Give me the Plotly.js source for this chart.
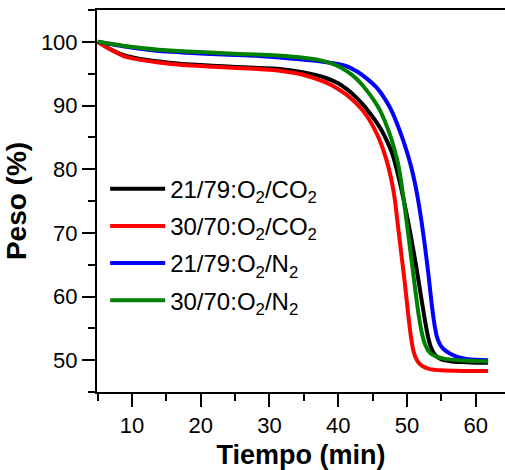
<!DOCTYPE html>
<html>
<head>
<meta charset="utf-8">
<script src="https://cdn.plot.ly/plotly-3.0.1.min.js"></script>
<style>html,body{margin:0;padding:0;background:#fff}#chart{width:505px;height:470px}</style>
</head>
<body>
<div id="chart"></div>
<script>
// Series names
const names = [
  "21/79:O<sub>2</sub>/CO<sub>2</sub>",
  "30/70:O<sub>2</sub>/CO<sub>2</sub>",
  "21/79:O<sub>2</sub>/N<sub>2</sub>",
  "30/70:O<sub>2</sub>/N<sub>2</sub>"
];
const colors = ["#000000", "#ff0000", "#0000ff", "#008000"];

// 21/79 O2/CO2 (black)
const blackX = [5, 7, 8.7, 11, 13.6, 17, 20, 23.3, 27, 31.5, 35, 38, 40, 41.2, 42.5, 43.8, 44.8, 45.6, 46.4, 47.1, 47.8, 48.5, 49.2, 49.9, 50.6, 51.3, 51.9, 52.5, 53.0, 53.5, 54.1, 55, 56.5, 58, 60, 61.8];
const blackY = [100, 98.75, 97.95, 97.35, 96.95, 96.55, 96.35, 96.15, 95.95, 95.75, 95.2, 94.4, 93.5, 92.6, 91.4, 89.9, 88.5, 87.3, 85.9, 84.4, 82.6, 80.0, 76.8, 73.2, 69.3, 65.0, 61.0, 57.0, 54.0, 52.0, 50.8, 50.1, 49.8, 49.7, 49.6, 49.6];

// 30/70 O2/CO2 (red)
const redX = [5, 7, 8.7, 11, 13.6, 17, 20, 23.3, 27, 31.5, 35, 38, 40, 42, 43.5, 44.5, 45.5, 46.3, 47.0, 47.6, 48.2, 48.7, 49.2, 49.7, 50.2, 50.6, 51.0, 51.5, 52.2, 53.3, 55, 58, 61.8];
const redY = [100, 98.7, 97.8, 97.2, 96.8, 96.4, 96.2, 96.0, 95.8, 95.45, 94.8, 93.7, 92.6, 91.0, 89.3, 87.8, 85.8, 83.8, 81.5, 79.0, 75.5, 71.0, 66.5, 62.0, 57.0, 53.5, 51.2, 49.9, 49.1, 48.6, 48.4, 48.3, 48.3];

// 21/79 O2/N2 (blue)
const blueX = [5, 8.7, 13.6, 18, 23.3, 28, 33, 37, 39.5, 41.2, 42.8, 44.3, 45.6, 46.7, 47.7, 48.5, 49.3, 50.0, 50.6, 51.1, 51.6, 52.1, 52.6, 53.1, 53.6, 54.0, 54.4, 54.9, 55.6, 56.5, 57.7, 60, 61.8];
const blueY = [100, 99.3, 98.6, 98.3, 98.0, 97.8, 97.4, 97.0, 96.6, 96.2, 95.3, 94.1, 92.8, 91.2, 89.3, 87.3, 85.0, 82.7, 80.4, 78.1, 75.3, 71.9, 68.0, 63.7, 58.8, 55.6, 53.5, 52.3, 51.5, 50.9, 50.4, 50.05, 50.0];

// 30/70 O2/N2 (green)
const greenX = [5, 8.7, 13.6, 18, 23.3, 28, 33, 37, 39, 40.5, 42, 43.2, 44.2, 45.2, 46.0, 46.8, 47.5, 48.1, 48.7, 49.2, 49.7, 50.2, 50.7, 51.2, 51.7, 52.2, 52.7, 53.3, 54.2, 55.5, 57.5, 61.8];
const greenY = [100, 99.4, 98.8, 98.5, 98.2, 98.0, 97.7, 97.2, 96.6, 95.9, 94.8, 93.6, 92.3, 90.8, 89.4, 87.5, 85.5, 83.4, 80.9, 77.7, 73.8, 69.7, 65.4, 61.1, 57.1, 54.1, 52.3, 51.2, 50.6, 50.2, 50.0, 49.8];

const xs = [blackX, redX, blueX, greenX];
const ys = [blackY, redY, blueY, greenY];

const traces = names.map((n, i) => ({
  x: xs[i], y: ys[i], name: n, type: "scatter", mode: "lines",
  line: {color: colors[i], width: 4, shape: "spline", smoothing: 0.6},
  legendgroup: "g" + i
}));

const font = {family: "Liberation Sans, Arial, sans-serif", color: "#000"};

const layout = {
  width: 505, height: 470,
  margin: {l: 97, r: 0, t: 10, b: 78},
  paper_bgcolor: "#fff", plot_bgcolor: "#fff",
  font: Object.assign({size: 22}, font),
  showlegend: true,
  legend: {
    x: 0.02, y: 0.59, xanchor: "left", yanchor: "top",
    bgcolor: "rgba(0,0,0,0)", borderwidth: 0,
    font: Object.assign({size: 24}, font),
    itemwidth: 55, tracegroupgap: 3, traceorder: "grouped"
  },
  xaxis: {
    range: [4.91, 64.26], showgrid: false, zeroline: false,
    showline: true, linecolor: "#000", linewidth: 2, mirror: true,
    ticks: "outside", ticklen: 13, tickwidth: 2, tickcolor: "#000",
    tick0: 10, dtick: 10,
    minor: {ticks: "outside", ticklen: 7, tickwidth: 2, tickcolor: "#000", dtick: 5, tick0: 0},
    tickfont: Object.assign({size: 22}, font),
    title: {text: "<b>Tiempo (min)</b>", font: Object.assign({size: 27}, font), standoff: 10}
  },
  yaxis: {
    range: [45, 105], showgrid: false, zeroline: false,
    showline: true, linecolor: "#000", linewidth: 2,
    ticks: "outside", ticklen: 13, tickwidth: 2, tickcolor: "#000",
    tick0: 50, dtick: 10,
    minor: {ticks: "outside", ticklen: 7, tickwidth: 2, tickcolor: "#000", dtick: 5, tick0: 0},
    tickfont: Object.assign({size: 22}, font),
    title: {text: "<b>Peso (%)</b>", font: Object.assign({size: 28}, font), standoff: 6}
  }
};

Plotly.newPlot("chart", traces, layout, {staticPlot: true, displayModeBar: false});
</script>
</body>
</html>
